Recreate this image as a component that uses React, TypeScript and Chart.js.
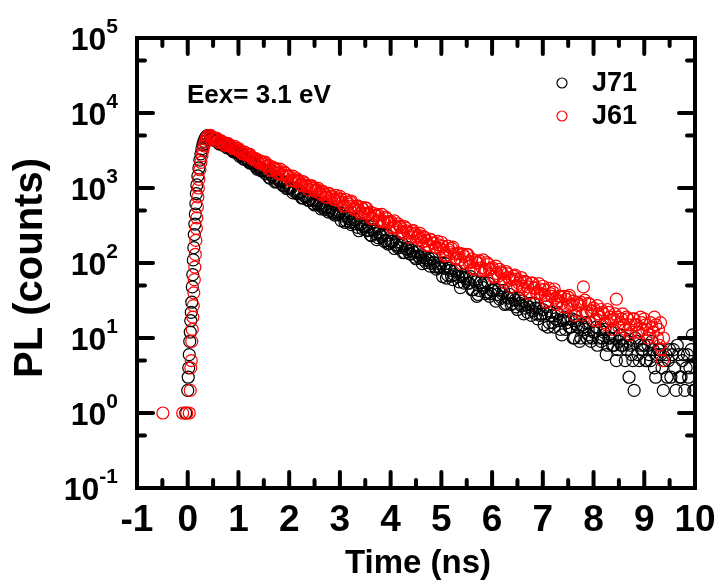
import { useEffect, useRef } from "react";
import { Chart, registerables } from "chart.js";

Chart.register(...registerables);

// ---------- data (time in ns, PL counts) ----------
const j71Time = [
  -0.04, 0.0, 0.01, 0.02, 0.03, 0.04, 0.05, 0.06, 0.07, 0.08, 0.09, 0.1, 0.11, 0.12, 0.13, 0.14, 0.15, 0.16, 0.17, 0.18,
  0.2, 0.22, 0.24, 0.26, 0.28, 0.3, 0.32, 0.34, 0.36, 0.38, 0.4,
  0.45, 0.5, 0.55, 0.6, 0.65, 0.7, 0.75, 0.8, 0.85, 0.9, 0.95,
  1.0, 1.05, 1.1, 1.15, 1.2, 1.25, 1.3, 1.35, 1.4, 1.45,
  1.5, 1.55, 1.6, 1.65, 1.7, 1.75, 1.8, 1.85, 1.9, 1.95,
  2.0, 2.05, 2.1, 2.15, 2.2, 2.25, 2.3, 2.35, 2.4, 2.45,
  2.5, 2.55, 2.6, 2.65, 2.7, 2.75, 2.8, 2.85, 2.9, 2.95,
  3.0, 3.05, 3.1, 3.15, 3.2, 3.25, 3.3, 3.35, 3.4, 3.45,
  3.5, 3.55, 3.6, 3.65, 3.7, 3.75, 3.8, 3.85, 3.9, 3.95,
  4.0, 4.05, 4.1, 4.15, 4.2, 4.25, 4.3, 4.35, 4.4, 4.45,
  4.5, 4.55, 4.6, 4.65, 4.7, 4.75, 4.8, 4.85, 4.9, 4.95,
  5.0, 5.05, 5.1, 5.15, 5.2, 5.25, 5.3, 5.35, 5.4, 5.45,
  5.5, 5.55, 5.6, 5.65, 5.7, 5.75, 5.8, 5.85, 5.9, 5.95,
  6.0, 6.05, 6.1, 6.15, 6.2, 6.25, 6.3, 6.35, 6.4, 6.45,
  6.5, 6.55, 6.6, 6.65, 6.7, 6.75, 6.8, 6.85, 6.9, 6.95,
  7.0, 7.05, 7.1, 7.15, 7.2, 7.25, 7.3, 7.35, 7.4, 7.45,
  7.5, 7.55, 7.6, 7.65, 7.7, 7.75, 7.8, 7.85, 7.9, 7.95,
  8.0, 8.05, 8.1, 8.15, 8.2, 8.25, 8.3, 8.35, 8.4, 8.45,
  8.5, 8.55, 8.6, 8.65, 8.7, 8.75, 8.8, 8.85, 8.9, 8.95,
  9.0, 9.05, 9.1, 9.15, 9.2, 9.25, 9.3, 9.35, 9.4, 9.45,
  9.5, 9.55, 9.6, 9.65, 9.7, 9.75, 9.8, 9.85, 9.9, 9.95,
  10.0,
  0.475, 0.525, 0.575, 0.625, 0.675, 0.725, 0.775, 0.825, 0.875, 0.925, 0.975,
  1.025, 1.075, 1.125, 1.175, 1.225, 1.275, 1.325, 1.375, 1.425, 1.475,
  1.525, 1.575, 1.625, 1.675, 1.725, 1.775, 1.825, 1.875, 1.925, 1.975,
  2.025, 2.075, 2.125, 2.175, 2.225, 2.275, 2.325, 2.375, 2.425, 2.475,
  2.525, 2.575, 2.625, 2.675, 2.725, 2.775, 2.825, 2.875, 2.925, 2.975,
  3.025, 3.075, 3.125, 3.175, 3.225, 3.275, 3.325, 3.375, 3.425, 3.475,
  3.525, 3.575, 3.625, 3.675, 3.725, 3.775, 3.825, 3.875, 3.925, 3.975,
  4.025, 4.075, 4.125, 4.175, 4.225, 4.275, 4.325, 4.375, 4.425, 4.475,
  4.525, 4.575, 4.625, 4.675, 4.725, 4.775, 4.825, 4.875, 4.925, 4.975,
  5.025, 5.075, 5.125, 5.175, 5.225, 5.275, 5.325, 5.375, 5.425, 5.475,
  5.525, 5.575, 5.625, 5.675, 5.725, 5.775, 5.825, 5.875, 5.925, 5.975,
  6.025, 6.075, 6.125, 6.175, 6.225, 6.275, 6.325, 6.375, 6.425, 6.475,
  6.525, 6.575, 6.625, 6.675, 6.725, 6.775, 6.825, 6.875, 6.925, 6.975,
  7.025, 7.075, 7.125, 7.175, 7.225, 7.275, 7.325, 7.375, 7.425, 7.475,
  7.525, 7.575, 7.625, 7.675, 7.725, 7.775, 7.825, 7.875, 7.925, 7.975,
  8.025, 8.075, 8.125, 8.175, 8.225, 8.275, 8.325, 8.375, 8.425, 8.475,
  8.525, 8.575, 8.625, 8.675, 8.725, 8.775, 8.825, 8.875, 8.925, 8.975,
  9.025, 9.075, 9.125, 9.175, 9.225, 9.275, 9.325, 9.375, 9.425, 9.475,
  9.525, 9.575, 9.625, 9.675, 9.725, 9.775, 9.825, 9.875, 9.925, 9.975,
];
const j71Counts = [
  1, 2, 3, 4, 6, 9, 12, 17, 22, 30, 48, 70, 110, 160, 240, 330, 450, 620, 840, 1100,
  1450, 1850, 2350, 2850, 3350, 3800, 4200, 4550, 4800, 4950, 5000,
  4880, 4360, 4390, 4320, 3930, 3710, 3840, 3480, 3410, 3040, 2980,
  2970, 2730, 2430, 2500, 2250, 2170, 2150, 1880, 1870, 1700,
  1730, 1540, 1390, 1510, 1360, 1220, 1260, 1250, 1080, 985,
  1020, 1010, 908, 840, 870, 736, 783, 785, 678, 691,
  594, 620, 624, 554, 520, 567, 500, 504, 436, 441,
  471, 423, 349, 410, 349, 353, 376, 299, 325, 283,
  311, 271, 237, 279, 248, 218, 236, 242, 200, 179,
  195, 198, 174, 159, 172, 137, 155, 160, 131, 139,
  114, 124, 128, 109, 101, 116, 99, 102, 83, 87,
  99, 85, 63, 85, 67, 70, 79, 56, 66, 54,
  65, 54, 44, 60, 36, 43, 51, 55, 41, 36,
  43, 45, 38, 33, 39, 28, 35, 38, 29, 32,
  24, 29, 31, 25, 22, 29, 23, 25, 18, 20,
  24, 21, 14, 22, 16, 18, 21, 13, 17, 13,
  18, 14, 10, 17, 14, 10, 14, 16, 11, 9,
  12, 14, 10, 9, 12, 6, 10, 12, 8, 5,
  9, 8, 10, 7, 3, 6, 2, 9, 5, 7,
  8, 5, 6, 9, 4, 6, 7, 4, 5, 3,
  7, 6, 4, 8, 3, 5, 2, 6, 4, 11,
  2,
  4530, 4680, 4240, 3860, 4000, 3780, 3430, 3620, 3190, 3200, 2950,
  2650, 2770, 2430, 2400, 2150, 2200, 2000, 1780, 1840, 1720,
  1580, 1650, 1350, 1440, 1200, 1330, 1200, 1080, 1190, 995,
  1005, 860, 958, 847, 892, 735, 763, 687, 719, 622,
  677, 597, 527, 579, 546, 478, 543, 461, 484, 443,
  367, 463, 364, 392, 325, 385, 332, 269, 332, 304,
  275, 307, 231, 266, 205, 252, 224, 194, 234, 185,
  195, 156, 191, 162, 182, 138, 152, 132, 146, 120,
  141, 118, 98, 118, 109, 91, 114, 89, 99, 88,
  66, 98, 69, 80, 60, 80, 66, 47, 69, 62,
  54, 66, 44, 56, 38, 55, 47, 39, 54, 39,
  43, 31, 44, 35, 43, 29, 34, 28, 34, 26,
  34, 27, 21, 28, 26, 20, 29, 21, 25, 21,
  15, 26, 16, 20, 14, 22, 17, 11, 19, 16,
  14, 18, 10, 15, 9, 15, 13, 10, 16, 10,
  12, 8, 13, 10, 13, 8, 10, 8, 10, 7,
  11, 8, 5, 9, 8, 5, 10, 6, 8, 7,
  5, 8, 5, 7, 3, 7, 6, 2, 6, 5,
  3, 7, 2, 6, 3, 6, 4, 3, 7, 2,
];

const j61Time = [
  -0.49, -0.1, -0.02, 0.03, 0.05, 0.06, 0.07, 0.08, 0.09, 0.1, 0.11, 0.12, 0.13, 0.14, 0.15, 0.16, 0.17, 0.18, 0.19, 0.2,
  0.21, 0.22, 0.24, 0.26, 0.28, 0.3, 0.32, 0.34, 0.36, 0.38, 0.4,
  0.45, 0.5, 0.55, 0.6, 0.65, 0.7, 0.75, 0.8, 0.85, 0.9, 0.95,
  1.0, 1.05, 1.1, 1.15, 1.2, 1.25, 1.3, 1.35, 1.4, 1.45,
  1.5, 1.55, 1.6, 1.65, 1.7, 1.75, 1.8, 1.85, 1.9, 1.95,
  2.0, 2.05, 2.1, 2.15, 2.2, 2.25, 2.3, 2.35, 2.4, 2.45,
  2.5, 2.55, 2.6, 2.65, 2.7, 2.75, 2.8, 2.85, 2.9, 2.95,
  3.0, 3.05, 3.1, 3.15, 3.2, 3.25, 3.3, 3.35, 3.4, 3.45,
  3.5, 3.55, 3.6, 3.65, 3.7, 3.75, 3.8, 3.85, 3.9, 3.95,
  4.0, 4.05, 4.1, 4.15, 4.2, 4.25, 4.3, 4.35, 4.4, 4.45,
  4.5, 4.55, 4.6, 4.65, 4.7, 4.75, 4.8, 4.85, 4.9, 4.95,
  5.0, 5.05, 5.1, 5.15, 5.2, 5.25, 5.3, 5.35, 5.4, 5.45,
  5.5, 5.55, 5.6, 5.65, 5.7, 5.75, 5.8, 5.85, 5.9, 5.95,
  6.0, 6.05, 6.1, 6.15, 6.2, 6.25, 6.3, 6.35, 6.4, 6.45,
  6.5, 6.55, 6.6, 6.65, 6.7, 6.75, 6.8, 6.85, 6.9, 6.95,
  7.0, 7.05, 7.1, 7.15, 7.2, 7.25, 7.3, 7.35, 7.4, 7.45,
  7.5, 7.55, 7.6, 7.65, 7.7, 7.75, 7.8, 7.85, 7.9, 7.95,
  8.0, 8.05, 8.1, 8.15, 8.2, 8.25, 8.3, 8.35, 8.4, 8.45,
  8.5, 8.55, 8.6, 8.65, 8.7, 8.75, 8.8, 8.85, 8.9, 8.95,
  9.0, 9.05, 9.1, 9.15, 9.2, 9.23, 9.26, 9.28, 9.3, 9.32, 9.34, 9.36, 9.38,
  0.475, 0.525, 0.575, 0.625, 0.675, 0.725, 0.775, 0.825, 0.875, 0.925, 0.975,
  1.025, 1.075, 1.125, 1.175, 1.225, 1.275, 1.325, 1.375, 1.425, 1.475,
  1.525, 1.575, 1.625, 1.675, 1.725, 1.775, 1.825, 1.875, 1.925, 1.975,
  2.025, 2.075, 2.125, 2.175, 2.225, 2.275, 2.325, 2.375, 2.425, 2.475,
  2.525, 2.575, 2.625, 2.675, 2.725, 2.775, 2.825, 2.875, 2.925, 2.975,
  3.025, 3.075, 3.125, 3.175, 3.225, 3.275, 3.325, 3.375, 3.425, 3.475,
  3.525, 3.575, 3.625, 3.675, 3.725, 3.775, 3.825, 3.875, 3.925, 3.975,
  4.025, 4.075, 4.125, 4.175, 4.225, 4.275, 4.325, 4.375, 4.425, 4.475,
  4.525, 4.575, 4.625, 4.675, 4.725, 4.775, 4.825, 4.875, 4.925, 4.975,
  5.025, 5.075, 5.125, 5.175, 5.225, 5.275, 5.325, 5.375, 5.425, 5.475,
  5.525, 5.575, 5.625, 5.675, 5.725, 5.775, 5.825, 5.875, 5.925, 5.975,
  6.025, 6.075, 6.125, 6.175, 6.225, 6.275, 6.325, 6.375, 6.425, 6.475,
  6.525, 6.575, 6.625, 6.675, 6.725, 6.775, 6.825, 6.875, 6.925, 6.975,
  7.025, 7.075, 7.125, 7.175, 7.225, 7.275, 7.325, 7.375, 7.425, 7.475,
  7.525, 7.575, 7.625, 7.675, 7.725, 7.775, 7.825, 7.875, 7.925, 7.975,
  8.025, 8.075, 8.125, 8.175, 8.225, 8.275, 8.325, 8.375, 8.425, 8.475,
  8.525, 8.575, 8.625, 8.675, 8.725, 8.775, 8.825, 8.875, 8.925, 8.975,
  9.025, 9.075, 9.125, 9.175,
];
const j61Counts = [
  1, 1, 1, 1, 2, 4, 5, 9, 13, 19, 27, 40, 60, 88, 130, 200, 290, 400, 560, 760,
  1000, 1300, 1750, 2200, 2700, 3200, 3650, 4100, 4500, 4800, 4980,
  5030, 4470, 4530, 4190, 4280, 3970, 3710, 3900, 3620, 3360, 3390,
  3360, 3020, 2830, 2850, 2800, 2590, 2430, 2450, 2170, 2220,
  2190, 1950, 2000, 1730, 1800, 1810, 1610, 1510, 1640, 1450,
  1460, 1260, 1280, 1330, 1220, 1070, 1170, 1040, 1035, 1070,
  906, 951, 863, 911, 828, 755, 837, 768, 702, 736,
  773, 643, 582, 638, 653, 574, 528, 576, 461, 525,
  543, 449, 477, 392, 428, 442, 380, 353, 410, 349,
  360, 297, 308, 333, 300, 249, 292, 250, 253, 270,
  215, 234, 205, 225, 197, 173, 205, 182, 161, 174,
  189, 146, 128, 149, 157, 132, 117, 136, 98, 122,
  130, 100, 113, 85, 100, 107, 87, 79, 101, 82,
  87, 66, 72, 82, 73, 55, 72, 59, 61, 69,
  50, 58, 49, 57, 48, 40, 54, 46, 39, 45,
  49, 37, 32, 39, 41, 34, 31, 36, 26, 33,
  35, 27, 31, 23, 27, 30, 48, 22, 29, 23,
  25, 18, 21, 24, 21, 15, 22, 17, 18, 33,
  14, 18, 15, 19, 15, 12, 18, 15, 12, 16,
  18, 13, 11, 14, 19, 15, 10, 13, 8, 16, 7, 5, 10,
  4780, 4500, 4590, 4050, 4180, 3730, 3950, 3700, 3430, 3600, 3200,
  3190, 2860, 3010, 2750, 2800, 2450, 2470, 2280, 2300, 2080,
  2220, 1960, 1730, 1900, 1790, 1560, 1780, 1500, 1580, 1440,
  1260, 1440, 1220, 1260, 1110, 1220, 1095, 950, 1065, 998,
  925, 986, 822, 889, 753, 848, 782, 712, 798, 680,
  709, 576, 699, 603, 671, 520, 569, 501, 554, 461,
  539, 456, 387, 457, 427, 359, 445, 356, 391, 351,
  294, 365, 291, 311, 262, 306, 267, 219, 267, 246,
  223, 249, 192, 218, 171, 207, 186, 163, 194, 156,
  167, 124, 168, 138, 163, 114, 133, 111, 131, 101,
  129, 104, 83, 108, 101, 79, 110, 82, 96, 83,
  65, 91, 67, 76, 60, 77, 64, 48, 67, 61,
  54, 64, 44, 55, 39, 54, 47, 40, 53, 39,
  44, 30, 46, 36, 45, 28, 36, 29, 36, 26,
  37, 28, 20, 30, 28, 20, 32, 22, 28, 23,
  17, 27, 19, 22, 16, 24, 19, 13, 21, 19,
  16, 21, 13, 18, 11, 18, 15, 12, 19, 13,
  15, 10, 16, 12,
];

const seriesNames = ["J71", "J61"];
const seriesColors = ["#000000", "#ff0000"];
const annotationText = "Eex= 3.1 eV";
const xTitle = "Time (ns)";
const yTitle = "PL (counts)";

const xMajorTicks = [-1, 0, 1, 2, 3, 4, 5, 6, 7, 8, 9, 10];
const xMinorTicks = [-0.5, 0.5, 1.5, 2.5, 3.5, 4.5, 5.5, 6.5, 7.5, 8.5, 9.5];
const xTickLabels = ["-1", "0", "1", "2", "3", "4", "5", "6", "7", "8", "9", "10"];
const yMajorTicks = [0.1, 1, 10, 100, 1000, 10000, 100000];
const yTickExponents = ["-1", "0", "1", "2", "3", "4", "5"];
const yMinorTicks = [0.5, 5, 50, 500, 5000, 50000];

const FONT = '"Liberation Sans", Arial, Helvetica, sans-serif';

const framePlugin = {
  id: "originFrame",
  afterDatasetsDraw(chart: any) {
    const { ctx, chartArea: a, scales } = chart;
    const xs = scales.x;
    const ys = scales.y;
    ctx.save();
    ctx.strokeStyle = "#000";
    ctx.lineWidth = 4;
    ctx.lineCap = "round";
    const seg = (x1: number, y1: number, x2: number, y2: number) => {
      ctx.beginPath();
      ctx.moveTo(x1, y1);
      ctx.lineTo(x2, y2);
      ctx.stroke();
    };
    const MAJ = 16;
    const MIN = 8;
    xMajorTicks.forEach((v) => {
      const p = xs.getPixelForValue(v);
      seg(p, a.bottom, p, a.bottom - MAJ);
      seg(p, a.top, p, a.top + MAJ);
    });
    xMinorTicks.forEach((v) => {
      const p = xs.getPixelForValue(v);
      seg(p, a.bottom, p, a.bottom - MIN);
      seg(p, a.top, p, a.top + MIN);
    });
    yMajorTicks.forEach((v) => {
      const p = ys.getPixelForValue(v);
      seg(a.left, p, a.left + MAJ, p);
      seg(a.right, p, a.right - MAJ, p);
    });
    yMinorTicks.forEach((v) => {
      const p = ys.getPixelForValue(v);
      seg(a.left, p, a.left + MIN, p);
      seg(a.right, p, a.right - MIN, p);
    });
    ctx.lineCap = "square";
    ctx.lineJoin = "miter";
    ctx.strokeRect(a.left, a.top, a.right - a.left, a.bottom - a.top);
    ctx.restore();
  },
  afterDraw(chart: any) {
    const { ctx, chartArea: a, scales } = chart;
    const xs = scales.x;
    const ys = scales.y;
    ctx.save();
    ctx.fillStyle = "#000";

    // x tick labels
    ctx.font = `bold 37px ${FONT}`;
    ctx.textAlign = "center";
    ctx.textBaseline = "alphabetic";
    xMajorTicks.forEach((v, i) => {
      ctx.fillText(xTickLabels[i], xs.getPixelForValue(v), a.bottom + 43);
    });

    // y tick labels: 10 with superscript exponent, right aligned
    const rightEdge = a.left - 19;
    yMajorTicks.forEach((v, i) => {
      const p = ys.getPixelForValue(v);
      ctx.font = `bold 21px ${FONT}`;
      const ew = ctx.measureText(yTickExponents[i]).width;
      ctx.font = `bold 32px ${FONT}`;
      const bw = ctx.measureText("10").width;
      ctx.textAlign = "left";
      const x0 = rightEdge - ew - bw;
      ctx.fillText("10", x0, p + 12);
      ctx.font = `bold 21px ${FONT}`;
      ctx.fillText(yTickExponents[i], x0 + bw, p - 5);
    });

    // axis titles
    ctx.font = `bold 33px ${FONT}`;
    ctx.textAlign = "center";
    ctx.fillText(xTitle, 418, 573);
    ctx.save();
    ctx.translate(42, 268);
    ctx.rotate(-Math.PI / 2);
    ctx.font = `bold 40px ${FONT}`;
    ctx.fillText(yTitle, 0, 0);
    ctx.restore();

    // annotation
    ctx.font = `bold 26px ${FONT}`;
    ctx.textAlign = "left";
    ctx.fillText(annotationText, 187, 103);

    // legend
    const legendY = [83, 116];
    const legendTextY = [91, 124];
    seriesNames.forEach((name, i) => {
      ctx.beginPath();
      ctx.arc(562, legendY[i], 5, 0, Math.PI * 2);
      ctx.lineWidth = 1.2;
      ctx.strokeStyle = seriesColors[i];
      ctx.stroke();
      ctx.fillStyle = "#000";
      ctx.font = `bold 27px ${FONT}`;
      ctx.fillText(name, 592, legendTextY[i]);
    });
    ctx.restore();
  },
};

export default function App() {
  const canvasRef = useRef<HTMLCanvasElement | null>(null);

  useEffect(() => {
    const canvas = canvasRef.current;
    if (!canvas) return;
    const mk = (t: number[], c: number[]) => t.map((x, i) => ({ x, y: c[i] }));
    const chart = new Chart(canvas, {
      type: "scatter",
      data: {
        datasets: [
          {
            label: seriesNames[0],
            data: mk(j71Time, j71Counts),
            pointRadius: 6,
            pointBorderWidth: 1.2,
            pointBorderColor: seriesColors[0],
            pointBackgroundColor: "rgba(255,255,255,0)",
            showLine: false,
            order: 2,
          },
          {
            label: seriesNames[1],
            data: mk(j61Time, j61Counts),
            pointRadius: 6,
            pointBorderWidth: 1.2,
            pointBorderColor: seriesColors[1],
            pointBackgroundColor: "rgba(255,255,255,0)",
            showLine: false,
            order: 1,
          },
        ],
      },
      options: {
        responsive: false,
        animation: false,
        devicePixelRatio: 1,
        layout: { padding: { left: 137, top: 38, right: 26, bottom: 98 } },
        plugins: { legend: { display: false }, tooltip: { enabled: false } },
        events: [],
        scales: {
          x: { type: "linear", min: -1, max: 10, display: false },
          y: { type: "logarithmic", min: 0.1, max: 100000, display: false },
        },
      },
      plugins: [framePlugin],
    });
    return () => chart.destroy();
  }, []);

  return (
    <div style={{ position: "fixed", left: 0, top: 0, width: 721, height: 586, background: "#fff" }}>
      <canvas ref={canvasRef} width={721} height={586} style={{ display: "block" }} />
    </div>
  );
}
